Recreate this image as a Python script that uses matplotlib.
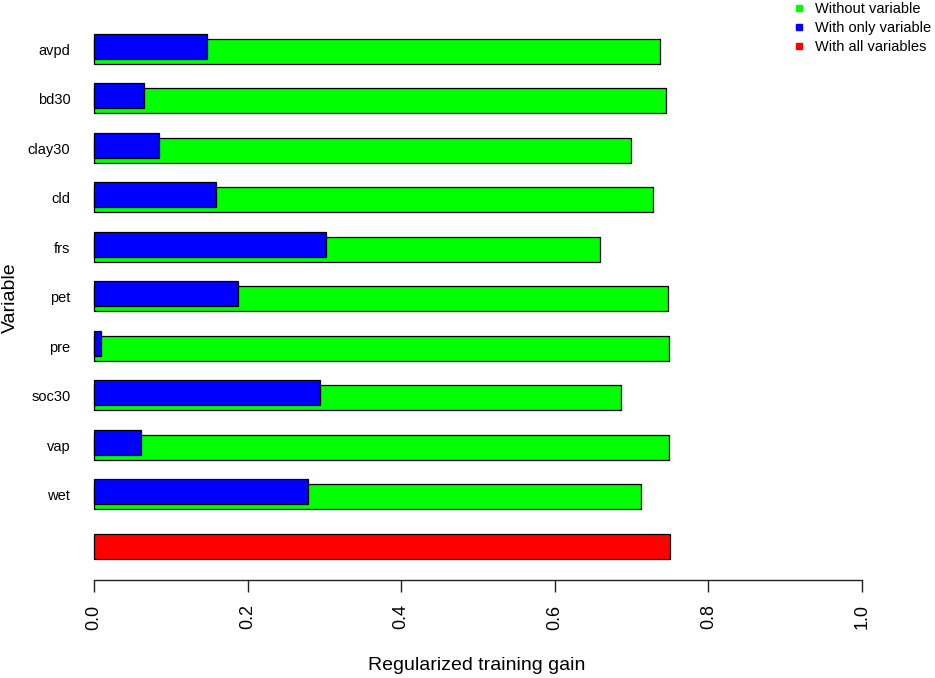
import numpy as np
import matplotlib
matplotlib.use('Agg')
import matplotlib.pyplot as plt
from matplotlib.lines import Line2D

plt.rcParams['font.family'] = ['Liberation Sans', 'DejaVu Sans']

# jackknife of regularized training gain
variables = ['avpd', 'bd30', 'clay30', 'cld', 'frs', 'pet', 'pre', 'soc30', 'vap', 'wet']
without_var = [0.737, 0.745, 0.699, 0.728, 0.659, 0.747, 0.749, 0.686, 0.749, 0.712]
only_var = [0.147, 0.065, 0.084, 0.159, 0.302, 0.187, 0.009, 0.294, 0.061, 0.279]
all_vars = 0.750
xticks = [0.0, 0.2, 0.4, 0.6, 0.8, 1.0]

green = '#00FF00'
blue = '#0000FF'
red = '#FF0000'

fig = plt.figure(figsize=(9.35, 6.78), dpi=100)
ax = fig.add_axes([94 / 935, 98 / 678, 768 / 935, 560 / 678])

pos = np.arange(len(variables))
h = 0.505
ax.barh(pos, without_var, height=h, color=green, edgecolor='black', linewidth=0.9, clip_on=False)
ax.barh(pos - 0.101, only_var, height=h, color=blue, edgecolor='black', linewidth=0.9, clip_on=False)
ax.barh([len(variables)], [all_vars], height=h, color=red, edgecolor='black', linewidth=0.9, clip_on=False)

ax.set_xlim(0, 1)
ax.set_ylim(10.677, -0.636)

ax.set_yticks(pos - 0.05)
ax.set_yticklabels(variables, fontsize=10.5)
ax.tick_params(axis='y', length=0, pad=17)

ax.set_xticks(xticks)
ax.set_xticklabels(['%.1f' % t for t in xticks], rotation=90, fontsize=13)
ax.tick_params(axis='x', length=8.6, width=1, pad=9, color='#222222')

for s in ['top', 'right', 'left']:
    ax.spines[s].set_visible(False)
ax.spines['bottom'].set_linewidth(1)
ax.spines['bottom'].set_color('#222222')

fig.text(476.5 / 935, 1 - 665 / 678, 'Regularized training gain', fontsize=14,
         ha='center', va='center')
fig.text(10.5 / 935, 1 - 298 / 678, 'Variable', fontsize=14, rotation=90,
         ha='center', va='center')

handles = [Line2D([], [], ls='none', marker='s', ms=5, color=c) for c in (green, blue, red)]
fig.legend(handles, ['Without variable', 'With only variable', 'With all variables'],
           loc='upper left', bbox_to_anchor=(786 / 935, 1 + 4 / 678), frameon=False,
           fontsize=10.5, handlelength=1.0, handletextpad=0.6, labelspacing=0.35,
           borderaxespad=0)

fig.savefig('out.png', dpi=100)
